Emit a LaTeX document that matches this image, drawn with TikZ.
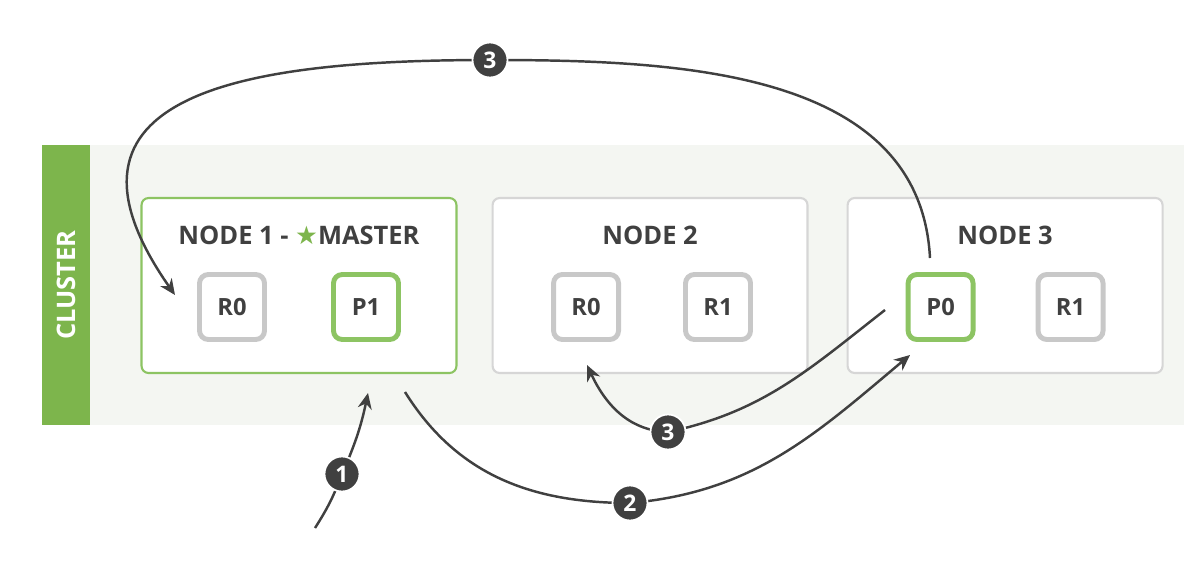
\documentclass[tikz,border=0pt]{standalone}
\usepackage{fontspec}
\setmainfont{Open Sans}
\newfontfamily\symfont{DejaVu Sans}
\usepackage{tikz}
\usetikzlibrary{arrows.meta, positioning}

\definecolor{esgreen}{HTML}{7DB54C}
\definecolor{boxgreen}{HTML}{8DC463}
\definecolor{boxgray}{HTML}{D6D6D6}
\definecolor{shardgray}{HTML}{C8C8C8}
\definecolor{inkgray}{HTML}{404040}
\definecolor{bandgray}{HTML}{F4F6F2}

\begin{document}
\begin{tikzpicture}[
    x=0.02cm, y=0.02cm,
    font=\bfseries,
    >={Stealth[length=9pt,width=8pt]},
    nodebox/.style={rectangle, draw=#1, line width=1.2pt, fill=white, rounded corners=4pt, minimum width=6.3cm, minimum height=3.5cm},
    shard/.style={rectangle, draw=#1, line width=2.8pt, fill=white, rounded corners=5pt, minimum size=1.3cm, text=inkgray, font=\bfseries\fontsize{13.5}{16}\selectfont},
    title/.style={text=inkgray, font=\bfseries\fontsize{14.5}{17}\selectfont},
    stepnum/.style={circle, fill=inkgray, draw=white, line width=1pt, minimum size=0.7cm, inner sep=0pt, text=white, font=\bfseries\fontsize{13}{15}\selectfont},
    flow/.style={->, draw=inkgray, line width=1.4pt},
]
    \useasboundingbox (0,0) rectangle (1184,-562);

    % Cluster band
    \fill[bandgray] (90,-145) rectangle (1184,-425);
    \node[rectangle, fill=esgreen, rotate=90, minimum width=5.6cm, minimum height=0.96cm, text=white, font=\bfseries\fontsize{14.5}{17}\selectfont] (cluster) at (66,-285) {CLUSTER};

    % Nodes
    \node[nodebox=boxgreen] (node1) at (299,-285.5) {};
    \node[nodebox=boxgray, right=0.68cm of node1] (node2) {};
    \node[nodebox=boxgray, right=0.76cm of node2] (node3) {};

    % Titles
    \node[title] (title1) at ([yshift=1.01cm]node1.center) {NODE 1 - {\symfont\color{esgreen}★}MASTER};
    \node[title] (title2) at ([yshift=1.01cm]node2.center) {NODE 2};
    \node[title] (title3) at ([yshift=1.01cm]node3.center) {NODE 3};

    % Shards
    \node[shard=shardgray] (n1r0) at ([shift={(-1.34cm,-0.43cm)}]node1.center) {R0};
    \node[shard=boxgreen]  (n1p1) at ([shift={(1.34cm,-0.43cm)}]node1.center) {P1};
    \node[shard=shardgray] (n2r0) at ([shift={(-1.28cm,-0.43cm)}]node2.center) {R0};
    \node[shard=shardgray] (n2r1) at ([shift={(1.36cm,-0.43cm)}]node2.center) {R1};
    \node[shard=boxgreen]  (n3p0) at ([shift={(-1.29cm,-0.43cm)}]node3.center) {P0};
    \node[shard=shardgray] (n3r1) at ([shift={(1.31cm,-0.43cm)}]node3.center) {R1};

    % Step points and free ends
    \coordinate (s1) at (342,-474);
    \coordinate (s2) at (630,-503);
    \coordinate (s3a) at (668,-432);
    \coordinate (s3b) at (490,-60);
    \coordinate (req) at (315,-528);
    \coordinate (toP1) at (368,-393);
    \coordinate (fromP1) at (405,-392);
    \coordinate (toP0) at (910,-355);
    \coordinate (fromP0a) at (885,-310);
    \coordinate (toR0b) at (587,-365);
    \coordinate (fromP0b) at (930,-258);
    \coordinate (toR0a) at (175,-295);

    % Arrows
    \draw[flow] (req) to[bend right=6] (s1) to[bend right=6] (toP1);
    \draw[flow] (fromP1) to[out=-58,in=180] (s2) to[out=5,in=220] (toP0);
    \draw[flow] (fromP0a) to[out=218,in=12] (s3a) to[out=178,in=-65] (toR0b);
    \draw[flow] (fromP0b) to[out=93,in=0] (s3b) to[out=180,in=125,looseness=1.6] (toR0a);

    % Step markers
    \node[stepnum] (step1) at (s1) {1};
    \node[stepnum] (step2) at (s2) {2};
    \node[stepnum] (step3a) at (s3a) {3};
    \node[stepnum] (step3b) at (s3b) {3};

\end{tikzpicture}
\end{document}
